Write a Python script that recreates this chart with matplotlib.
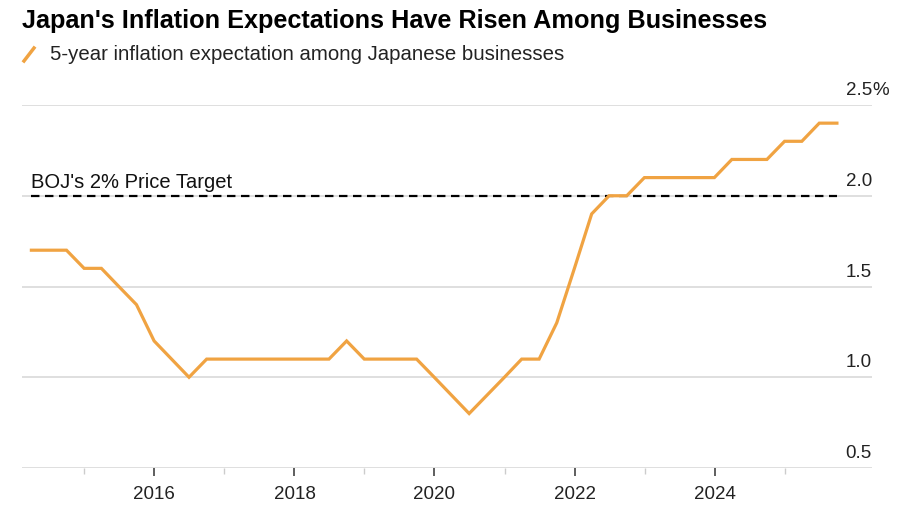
import numpy as np
import matplotlib
matplotlib.use('Agg')
import matplotlib.pyplot as plt
import matplotlib.dates as mdates
import pandas as pd
from datetime import datetime

#Data (quarterly Tankan survey, Mar 2014 - Sep 2025)
dates  = pd.date_range('2014-03-31', periods=47, freq='QE')
values = [1.7, 1.7, 1.7, 1.6, 1.6, 1.5, 1.4, 1.2, 1.1, 1.0,
          1.1, 1.1, 1.1, 1.1, 1.1, 1.1, 1.1, 1.1, 1.2, 1.1,
          1.1, 1.1, 1.1, 1.0, 0.9, 0.8, 0.9, 1.0, 1.1, 1.1,
          1.3, 1.6, 1.9, 2.0, 2.0, 2.1, 2.1, 2.1, 2.1, 2.1,
          2.2, 2.2, 2.2, 2.3, 2.3, 2.4, 2.4]
yticks  = [0.5, 1.0, 1.5, 2.0, 2.5]
ylabels = ['0.5', '1.0', '1.5', '2.0', '2.5']
major_years = [2016, 2018, 2020, 2022, 2024]
minor_years = [2015, 2017, 2019, 2021, 2023, 2025]
target  = 2.0

title    = "Japan's Inflation Expectations Have Risen Among Businesses"
subtitle = '5-year inflation expectation among Japanese businesses'
orange   = '#F0A342'

plt.rcParams['font.family'] = ['Liberation Sans', 'DejaVu Sans']

fig = plt.figure(figsize=(9, 5.1), dpi=100)
ax = fig.add_axes([22/900, 41/510, (872-22)/900, (469-106)/510])

#Gridlines
for y in yticks:
    ax.axhline(y, color='#d6d6d6', lw=1.1, zorder=1)

#Target line
ax.plot([dates[0], dates[-1]], [target, target], color='black', lw=1.6,
        ls=(0, (3.8, 2.5)), zorder=2)
ax.text(dates[0], target + 0.025, "BOJ's 2% Price Target", fontsize=14.5,
        color='#111111', ha='left', va='bottom')

#Series
ax.plot(dates, values, color=orange, lw=2.3, zorder=3, solid_joinstyle='miter')

ax.set_xlim(datetime(2014, 2, 10), datetime(2026, 4, 1))
ax.set_ylim(0.5, 2.5)

for s in ax.spines.values():
    s.set_visible(False)
ax.set_yticks([])

#Y labels above gridlines at right
for y, lab in zip(yticks, ylabels):
    ax.annotate(lab, xy=(1, y), xycoords=('axes fraction', 'data'),
                xytext=(0, 5), textcoords='offset points',
                ha='right', va='bottom', fontsize=13.5, color='#222222',
                annotation_clip=False)
ax.annotate('%', xy=(1, yticks[-1]), xycoords=('axes fraction', 'data'),
            xytext=(0, 5), textcoords='offset points',
            ha='left', va='bottom', fontsize=13.5, color='#222222',
            annotation_clip=False)

ax.set_xticks([datetime(y, 1, 1) for y in major_years])
ax.set_xticklabels([str(y) for y in major_years])
ax.set_xticks([datetime(y, 1, 1) for y in minor_years], minor=True)
ax.tick_params(axis='x', which='major', length=6, width=1.1, color='#333333',
               labelsize=13.5, labelcolor='#222222', pad=6)
ax.tick_params(axis='x', which='minor', length=4, width=1, color='#cccccc')

#Title and legend
fig.text(22/900, 1 - 21/510, title, fontsize=18.2, fontweight='bold',
         color='black', ha='left', va='center')
fig.lines.append(plt.Line2D([24/900, 34/900], [1 - 62/510, 1 - 49/510],
                            transform=fig.transFigure, color=orange, lw=2.5))
fig.text(50/900, 1 - 55/510, subtitle, fontsize=14.7, color='#222222',
         ha='left', va='center')

fig.savefig('out.png', dpi=100, facecolor='white')
